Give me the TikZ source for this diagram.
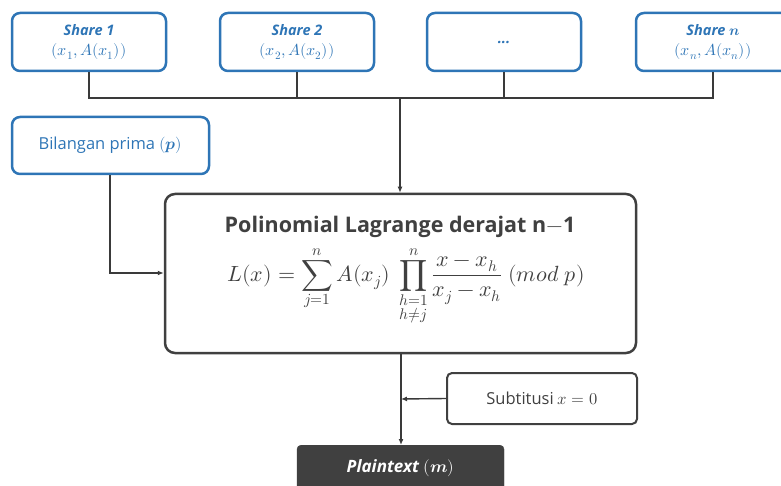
\documentclass[tikz,border=0pt]{standalone}
\usepackage{amsmath}
\usepackage{fontspec}
\usepackage{unicode-math}
\setmainfont{Open Sans}
\setmathfont{Latin Modern Math}
\usetikzlibrary{arrows.meta}
\definecolor{bl}{HTML}{2E75B6}
\definecolor{dk}{HTML}{404040}
\begin{document}
\begin{tikzpicture}[x=1pt,y=-1pt,
  sharebox/.style={draw=bl,line width=2.5pt,rounded corners=8pt,minimum width=154pt,minimum height=58pt,align=center,text=bl,font=\fontsize{14.5}{18}\selectfont,inner sep=0pt},
  darkbox/.style={draw=dk,line width=2.5pt,rounded corners=10pt,align=center,text=dk,inner sep=0pt},
  conn/.style={draw=dk!90!black,line width=1.4pt},
  arr/.style={conn,-{Latex[length=6pt,width=5pt]}}]
\useasboundingbox (0,0) rectangle (781,486);
\node[sharebox] (s1) at (89,42) {\textbf{\textit{Share 1}}\\[2pt]{\fontsize{16}{18}\selectfont$\left(x_1,A(x_1)\right)$}};
\node[sharebox] (s2) at (297,42) {\textbf{\textit{Share 2}}\\[2pt]{\fontsize{16}{18}\selectfont$\left(x_2,A(x_2)\right)$}};
\node[sharebox] (s3) at (504,42) {\textbf{\textit{...}}};
\node[sharebox] (sn) at (713,42) {\textbf{\textit{Share} $\symbfit{n}$}\\[2pt]{\fontsize{16}{18}\selectfont$\left(x_n,A(x_n)\right)$}};
\node[sharebox,minimum width=197pt,minimum height=57pt,font=\fontsize{16.5}{20}\selectfont] (bp) at (110.5,145.5) {Bilangan prima $(\symbfit{p})$};
\node[darkbox,minimum width=471pt,minimum height=159pt] (lg) at (400.5,273.5) {};
\node[text=dk,font=\fontsize{21.5}{25}\selectfont\bfseries] (tt) at (400,227) {Polinomial Lagrange derajat n$\symbf{-}$1};
\node[text=dk,font=\fontsize{22}{26}\selectfont] (fm) at (406,286) {$\displaystyle L(x)=\sum_{j=1}^{n}A(x_j)\ \prod_{\substack{h=1\\[1pt]h\neq j}}^{n}\frac{x-x_h}{x_j-x_h}\ (mod\ p)$};
\node[darkbox,line width=2pt,rounded corners=5pt,minimum width=190pt,minimum height=51pt,font=\fontsize{16.5}{20}\selectfont] (sb) at (542,398.5) {Subtitusi $x=0$};
\node[draw=dk,fill=dk,rounded corners=4pt,minimum width=207pt,minimum height=50pt,anchor=north] (pt) at (400.5,445) {};
\node[text=white,font=\fontsize{17}{20}\selectfont\bfseries\itshape] (ptt) at (400.5,468) {Plaintext $(\symbfit{m})$};
\coordinate (bus) at (400,98);
\coordinate (bend) at (110,273);
\coordinate (join) at (401,399);
\draw[conn] (s1.south) |- (bus);
\draw[conn] (sn.south) |- (bus);
\draw[conn] (s2.south) -- (s2.south |- bus);
\draw[conn] (s3.south) -- (s3.south |- bus);
\draw[arr] (bus) -- (lg.north -| bus);
\draw[arr] (bp.south -| bend) -- (bend) -- (lg.west |- bend);
\draw[arr] (lg.south -| join) -- (pt.north -| join);
\draw[arr] (sb.west) -- (join);
\end{tikzpicture}
\end{document}
